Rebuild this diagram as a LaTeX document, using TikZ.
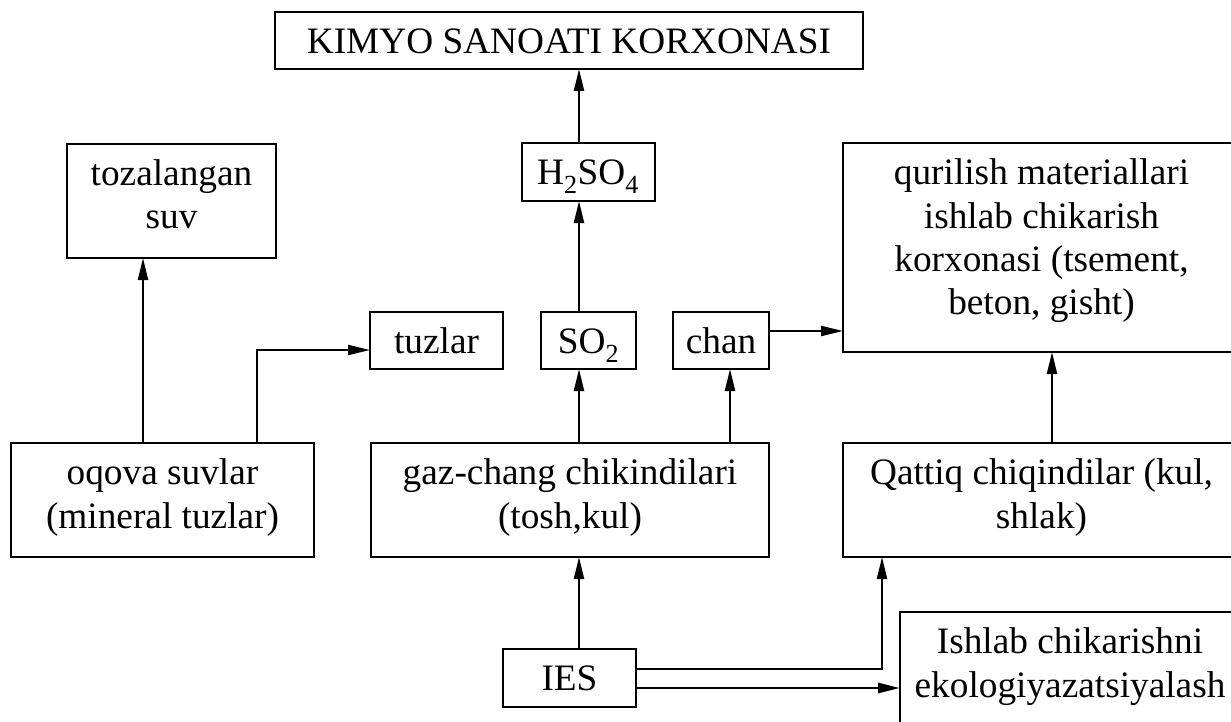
\documentclass[tikz,border=0pt]{standalone}
\usepackage{fontspec}
\setmainfont{Liberation Serif}
\usetikzlibrary{arrows.meta}
% strut that fixes the first baseline below the top edge of a box
\newcommand\boxstrut{\rule{0pt}{41.5pt}}
\begin{document}
\begin{tikzpicture}[x=1pt,y=-1pt,
  box/.style={draw, line width=2pt, inner sep=0pt, outer sep=0pt},
  txt/.style={anchor=north, inner sep=0pt, align=center,
              font=\fontsize{37.3pt}{43.3pt}\selectfont},
  flow/.style={line width=2.2pt, -{Triangle[length=22pt,width=10pt]}},
  heavyflow/.style={flow, line width=2.8pt},
]
\useasboundingbox (0,0) rectangle (1231,722);
\clip (0,0) rectangle (1231,722);

% boxes
\node[box, minimum width=588pt, minimum height=57pt]  (kimyo)  at (569,40.5)    {};
\node[box, minimum width=133pt, minimum height=58pt]  (h2so4)  at (588,172)     {};
\node[box, minimum width=209pt, minimum height=114pt] (tozal)  at (171.5,201)   {};
\node[box, minimum width=133pt, minimum height=57pt]  (tuzlar) at (436.5,340.5) {};
\node[box, minimum width=95pt,  minimum height=57pt]  (so2)    at (588.5,340.5) {};
\node[box, minimum width=96pt,  minimum height=57pt]  (chan)   at (721,340.5)   {};
\node[box, minimum width=397pt, minimum height=209pt] (quril)  at (1041.5,247.5){};
\node[box, minimum width=303pt, minimum height=114pt] (oqova)  at (162.5,500)   {};
\node[box, minimum width=398pt, minimum height=114pt] (gaz)    at (570,500)     {};
\node[box, minimum width=397pt, minimum height=114pt] (qattiq) at (1041.5,500)  {};
\node[box, minimum width=133pt, minimum height=58pt]  (ies)    at (569.5,678)   {};
\node[box, minimum width=340pt, minimum height=112pt] (ishlab) at (1070,668)    {};

% texts
\node[txt] (kimyo-t)  at (kimyo.north)  {\boxstrut KIMYO SANOATI KORXONASI};
\node[txt] (h2so4-t)  at (h2so4.north)  {\boxstrut H\textsubscript{2}SO\textsubscript{4}};
\node[txt] (tozal-t)  at (tozal.north)  {\boxstrut tozalangan\\suv};
\node[txt] (tuzlar-t) at (tuzlar.north) {\boxstrut tuzlar};
\node[txt] (so2-t)    at (so2.north)    {\boxstrut SO\textsubscript{2}};
\node[txt] (chan-t)   at (chan.north)   {\boxstrut chan};
\node[txt] (quril-t)  at (quril.north)  {\boxstrut qurilish materiallari\\ishlab chikarish\\korxonasi (tsement,\\beton, gisht)};
\node[txt] (oqova-t)  at (oqova.north)  {\boxstrut oqova suvlar\\(mineral tuzlar)};
\node[txt] (gaz-t)    at (gaz.north)    {\boxstrut gaz-chang chikindilari\\(tosh,kul)};
\node[txt] (qattiq-t) at (qattiq.north) {\boxstrut Qattiq chiqindilar (kul,\\shlak)};
\node[txt] (ies-t)    at (ies.north)    {\boxstrut IES};
\node[txt] (ishlab-t) at (ishlab.north) {\boxstrut Ishlab chikarishni\\ekologiyazatsiyalash};

% connector guide points
\coordinate (mid)   at (579,0);
\coordinate (left)  at (143,0);
\coordinate (salt)  at (257,350);
\coordinate (dust)  at (730,0);
\coordinate (ashy)  at (0,331);
\coordinate (solid) at (1052,0);
\coordinate (upy)   at (882,669);
\coordinate (lowy)  at (0,688);

% connectors
\draw[flow] (h2so4.north -| mid) -- (kimyo.south -| mid);
\draw[flow] (so2.north -| mid)   -- (h2so4.south -| mid);
\draw[flow] (gaz.north -| mid)   -- (so2.south -| mid);
\draw[flow] (ies.north -| mid)   -- (gaz.south -| mid);
\draw[flow] (oqova.north -| left) -- (tozal.south -| left);
\draw[flow] (oqova.north -| salt) |- (tuzlar.west |- salt);
\draw[flow] (gaz.north -| dust)  -- (chan.south -| dust);
\draw[flow] (chan.east |- ashy)  -- (quril.west |- ashy);
\draw[flow] (qattiq.north -| solid) -- (quril.south -| solid);
\draw[flow] (ies.east |- upy) -| (qattiq.south -| upy);
\draw[heavyflow] (ies.east |- lowy) -- (ishlab.west |- lowy);
\end{tikzpicture}
\end{document}
